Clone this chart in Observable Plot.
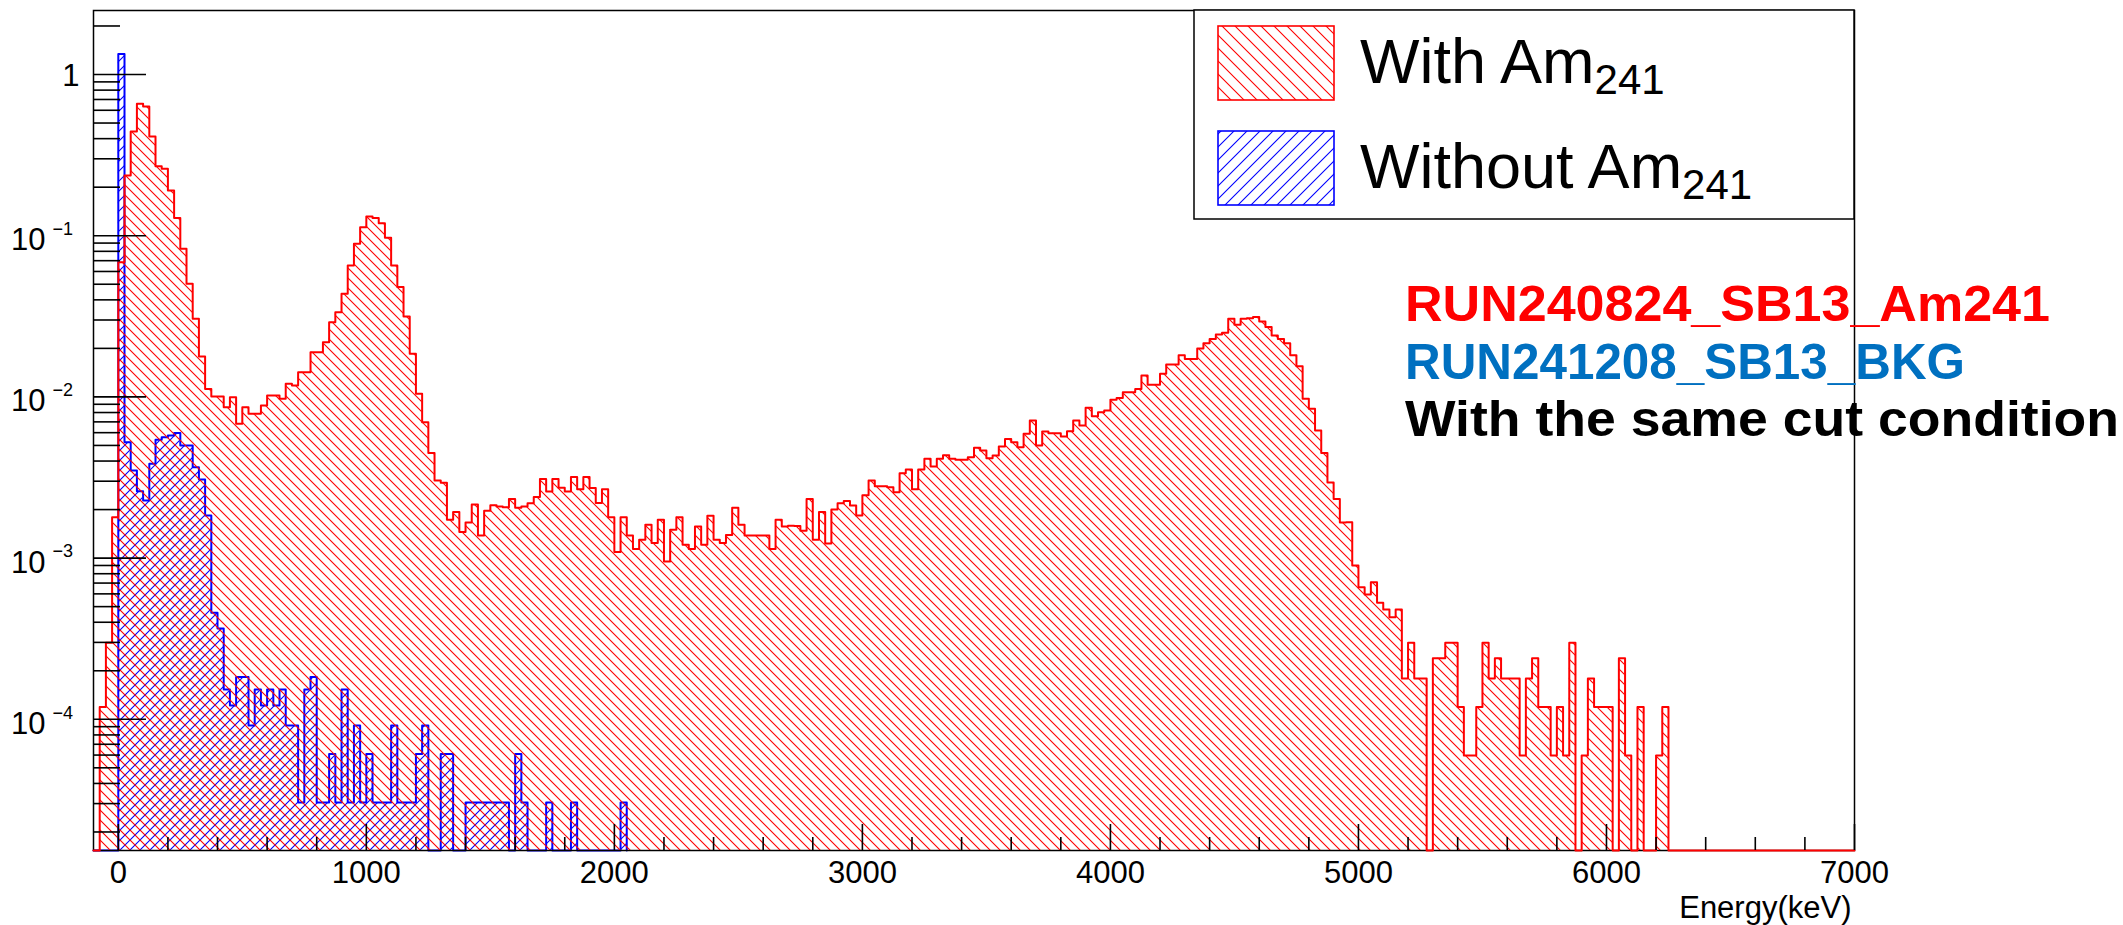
<!DOCTYPE html>
<html>
<head>
<meta charset="utf-8">
<script src="https://cdn.jsdelivr.net/npm/d3@7"></script>
<script src="https://cdn.jsdelivr.net/npm/@observablehq/plot@0.6"></script>
<style>
  html, body { margin: 0; padding: 0; background: #fff; }
  #chart { width: 2123px; height: 925px; }
</style>
</head>
<body>
<div id="chart"></div>
<script>
// Energy spectrum, 25 keV bins starting at -100 keV (normalised counts per bin)
const binWidth = 25;
const firstEdge = -100;
const lastEdge = 7000;

// With the Am241 source (RUN240824_SB13_Am241)
const withAm241 = [
  0, 1.19e-4, 2.98e-4, 1.79e-3, 0.0685, 0.236, 0.443, 0.658, 0.633, 0.412,
  0.270, 0.260, 0.191, 0.129, 0.0829, 0.0503, 0.0305, 0.0178, 0.0112, 0.01005,
  0.01005, 0.00863, 0.00996, 0.00681, 0.00863, 0.00785, 0.00785, 0.00885, 0.0102, 0.0102,
  0.00973, 0.01205, 0.01178, 0.01423, 0.01423, 0.0189, 0.0189, 0.0218, 0.0291, 0.0335,
  0.0436, 0.0653, 0.0891, 0.113, 0.1316, 0.129, 0.1196, 0.097, 0.0653, 0.048,
  0.0315, 0.0185, 0.01045, 0.00697, 0.00448, 0.00303, 0.00293, 0.00173, 0.00193, 0.00145,
  0.00166, 0.00215, 0.00138, 0.00197, 0.00213, 0.00209, 0.00207, 0.00233, 0.00205, 0.00209,
  0.00219, 0.00239, 0.0031, 0.00259, 0.0031, 0.00273, 0.00259, 0.00318, 0.00267, 0.00318,
  0.00272, 0.0022, 0.00267, 0.00179, 0.00109, 0.00179, 0.00138, 0.00114, 0.0013, 0.00161,
  0.00124, 0.00173, 0.000952, 0.0015, 0.00179, 0.00121, 0.00114, 0.00157, 0.00121, 0.00183,
  0.0013, 0.00124, 0.00139, 0.00205, 0.00161, 0.00138, 0.00138, 0.00138, 0.00138, 0.00114,
  0.00173, 0.00157, 0.00159, 0.00158, 0.00148, 0.00233, 0.0013, 0.00193, 0.00123, 0.002,
  0.00219, 0.00226, 0.00212, 0.00184, 0.00245, 0.00303, 0.00279, 0.00279, 0.00275, 0.00256,
  0.00336, 0.00355, 0.00267, 0.00355, 0.00413, 0.0037, 0.00413, 0.00435, 0.00413, 0.00407,
  0.00407, 0.00423, 0.00483, 0.00465, 0.00417, 0.00433, 0.00492, 0.00549, 0.00524, 0.00488,
  0.0059, 0.00714, 0.005, 0.0061, 0.00596, 0.00596, 0.00568, 0.00613, 0.00714, 0.00665,
  0.00855, 0.00759, 0.00804, 0.00824, 0.0096, 0.00986, 0.0107, 0.0107, 0.0112, 0.0136,
  0.0119, 0.0119, 0.0139, 0.0159, 0.0159, 0.0181, 0.0172, 0.0172, 0.02, 0.0215,
  0.0229, 0.0244, 0.025, 0.0305, 0.028, 0.0305, 0.0308, 0.0313, 0.0294, 0.0271,
  0.024, 0.0229, 0.0215, 0.0181, 0.0155, 0.00973, 0.00843, 0.00619, 0.00448, 0.00294,
  0.00233, 0.00166, 0.00167, 0.0009, 0.00066, 0.000594, 0.000708, 0.000528, 0.00048, 0.00043,
  0.00048, 1.79e-4, 2.98e-4, 1.79e-4, 1.79e-4, 0, 2.39e-4, 2.39e-4, 2.98e-4, 2.98e-4,
  1.19e-4, 5.97e-5, 5.97e-5, 1.19e-4, 2.98e-4, 1.79e-4, 2.39e-4, 1.79e-4, 1.79e-4, 1.79e-4,
  5.97e-5, 1.79e-4, 2.39e-4, 1.19e-4, 1.19e-4, 5.97e-5, 1.19e-4, 5.97e-5, 2.98e-4, 0,
  5.97e-5, 1.79e-4, 1.19e-4, 1.19e-4, 1.19e-4, 0, 2.39e-4, 5.97e-5, 0, 1.19e-4,
  0, 0, 5.97e-5, 1.19e-4
];

// Background run without the source (RUN241208_SB13_BKG)
const withoutAm241 = [
  0, 0, 0, 0, 1.34, 0.00524, 0.00349, 0.0026, 0.00228, 0.00385,
  0.00542, 0.00562, 0.00576, 0.00598, 0.005, 0.005, 0.00366, 0.00307, 0.00184, 4.58e-4,
  3.66e-4, 1.53e-4, 1.22e-4, 1.83e-4, 1.83e-4, 9.15e-5, 1.53e-4, 1.22e-4, 1.53e-4, 1.22e-4,
  1.53e-4, 9.15e-5, 9.15e-5, 3.05e-5, 1.53e-4, 1.83e-4, 3.05e-5, 3.05e-5, 6.1e-5, 3.05e-5,
  1.53e-4, 3.05e-5, 9.15e-5, 3.05e-5, 6.1e-5, 3.05e-5, 3.05e-5, 3.05e-5, 9.15e-5, 3.05e-5,
  3.05e-5, 3.05e-5, 6.1e-5, 9.15e-5, 0, 0, 6.1e-5, 6.1e-5, 0, 0,
  3.05e-5, 3.05e-5, 3.05e-5, 3.05e-5, 3.05e-5, 3.05e-5, 3.05e-5, 0, 6.1e-5, 3.05e-5,
  0, 0, 0, 3.05e-5, 0, 0, 0, 3.05e-5, 0, 0,
  0, 0, 0, 0, 0, 3.05e-5
];

const xMajorTicks = [0, 1000, 2000, 3000, 4000, 5000, 6000, 7000];
const xMinorTicks = d3.range(200, 7000, 200).filter(v => v % 1000 !== 0);
const yMajorTicks = [1e-4, 1e-3, 1e-2, 1e-1, 1];
const yMinorTicks = [-5, -4, -3, -2, -1, 0].flatMap(e => d3.range(2, 10).map(m => m * 10 ** e)).filter(v => v < 2.5);
const yDomain = [1.535e-5, 2.495];

const legendEntries = [
  {label: "With Am", sub: "241", color: "#ff0000", hatch: "hatch-red-legend"},
  {label: "Without Am", sub: "241", color: "#0000ff", hatch: "hatch-blue-legend"}
];
const notes = [
  {text: "RUN240824_SB13_Am241", color: "#ff0000"},
  {text: "RUN241208_SB13_BKG", color: "#0070c0"},
  {text: "With the same cut condition", color: "#000000"}
];

// Staircase outline of a histogram: starts on the floor, steps across every bin,
// returns to the floor after the last bin and may run along it to the axis end.
function staircase(values, runToEnd) {
  const floor = yDomain[0];
  const pts = [{x: firstEdge, y: floor}];
  values.forEach((v, i) => pts.push({x: firstEdge + i * binWidth, y: v > 0 ? v : floor}));
  const end = firstEdge + values.length * binWidth;
  pts.push({x: end, y: floor});
  if (runToEnd) pts.push({x: lastEdge, y: floor});
  return pts;
}
const redSteps = staircase(withAm241, true);
const blueSteps = staircase(withoutAm241, false);

const sup = e => "\u2212" + Math.abs(Math.round(Math.log10(e)));

const svg = Plot.plot({
  width: 2123,
  height: 925,
  marginLeft: 93,
  marginRight: 269,
  marginTop: 10,
  marginBottom: 75,
  style: {background: "#fff", fontFamily: "'Liberation Sans', Arial, Helvetica, sans-serif", overflow: "visible"},
  x: {domain: [firstEdge, lastEdge]},
  y: {type: "log", domain: yDomain},
  marks: [
    Plot.areaY(blueSteps, {x: "x", y1: yDomain[0], y2: "y", curve: "step-after", fill: "url(#hatch-blue)"}),
    Plot.lineY(blueSteps, {x: "x", y: "y", curve: "step-after", stroke: "#0000ff", strokeWidth: 2}),
    Plot.frame({stroke: "#000", strokeWidth: 1.5}),
    Plot.areaY(redSteps, {x: "x", y1: yDomain[0], y2: "y", curve: "step-after", fill: "url(#hatch-red)"}),
    Plot.lineY(redSteps, {x: "x", y: "y", curve: "step-after", stroke: "#ff0000", strokeWidth: 2}),
    // inward ticks
    Plot.axisY({ticks: yMajorTicks, tickSize: -53, fill: "none", label: null, strokeWidth: 1.6}),
    Plot.axisY({ticks: yMinorTicks, tickSize: -27, fill: "none", label: null, strokeWidth: 1.6}),
    Plot.axisX({ticks: xMajorTicks, tickSize: -26, fill: "none", label: null, strokeWidth: 1.6}),
    Plot.axisX({ticks: xMinorTicks, tickSize: -13, fill: "none", label: null, strokeWidth: 1.6}),
    // x tick labels
    Plot.text(xMajorTicks, {x: d => d, frameAnchor: "bottom", dy: 10, lineAnchor: "top", text: d => String(d), fontSize: 31, fill: "#000"}),
    // y tick labels: "1", then 10 with a raised exponent
    Plot.text(yMajorTicks.filter(v => v === 1), {y: d => d, frameAnchor: "left", dx: -14, dy: 2, textAnchor: "end", text: () => "1", fontSize: 31}),
    Plot.text(yMajorTicks.filter(v => v < 1), {y: d => d, frameAnchor: "left", dx: -48, dy: 4.5, textAnchor: "end", text: () => "10", fontSize: 31}),
    Plot.text(yMajorTicks.filter(v => v < 1), {y: d => d, frameAnchor: "left", dx: -41, dy: -6.5, textAnchor: "start", text: sup, fontSize: 18}),
    // axis title
    Plot.text(["Energy(keV)"], {frameAnchor: "bottom-right", dx: -3, dy: 67, textAnchor: "end", lineAnchor: "bottom", text: d => d, fontSize: 31})
  ]
});

// hatch patterns
const root = d3.select(svg);
const defs = root.insert("defs", ":first-child");
function hatch(id, color, s, backslash, width) {
  const p = defs.append("pattern").attr("id", id).attr("patternUnits", "userSpaceOnUse")
    .attr("width", s).attr("height", s);
  const d = backslash
    ? `M0,0L${s},${s}M${-1},${s - 1}L1,${s + 1}M${s - 1},-1L${s + 1},1`
    : `M0,${s}L${s},0M-1,1L1,-1M${s - 1},${s + 1}L${s + 1},${s - 1}`;
  p.append("path").attr("d", d).attr("stroke", color).attr("stroke-width", width).attr("fill", "none");
}
hatch("hatch-red", "#ff0000", 10, true, 1.1);
hatch("hatch-blue", "#0000ff", 10, false, 1.1);
hatch("hatch-red-legend", "#ff0000", 13, true, 1.1);
hatch("hatch-blue-legend", "#0000ff", 13, false, 1.1);

// legend box in the upper right corner of the frame
const legend = root.append("g").attr("class", "legend").attr("text-anchor", "start");
legend.append("rect").attr("x", 1194).attr("y", 10).attr("width", 660).attr("height", 209)
  .attr("fill", "#fff").attr("stroke", "#000").attr("stroke-width", 1.5);
legendEntries.forEach((e, i) => {
  const top = 26 + i * 105;
  legend.append("rect").attr("x", 1218).attr("y", top).attr("width", 116).attr("height", 74)
    .attr("fill", `url(#${e.hatch})`).attr("stroke", e.color).attr("stroke-width", 1.6);
  const t = legend.append("text").attr("x", 1360).attr("y", top + 57)
    .attr("text-anchor", "start")
    .attr("font-family", "'Liberation Sans', Arial, sans-serif").attr("font-size", 63).attr("fill", "#000")
    .text(e.label);
  t.append("tspan").attr("font-size", 42).attr("dy", 11).text(e.sub);
});

// run notes to the right of the frame
const noteG = root.append("g").attr("class", "notes").attr("text-anchor", "start");
const noteWidths = [645, 560, 714];
notes.forEach((n, i) => {
  noteG.append("text").attr("x", 1405).attr("y", 321 + i * 57.5)
    .attr("text-anchor", "start")
    .attr("font-family", "'Liberation Sans', Arial, sans-serif").attr("font-weight", 700)
    .attr("font-size", 50).attr("fill", n.color)
    .attr("textLength", noteWidths[i]).attr("lengthAdjust", "spacingAndGlyphs")
    .text(n.text);
});

document.getElementById("chart").appendChild(svg);
</script>
</body>
</html>
